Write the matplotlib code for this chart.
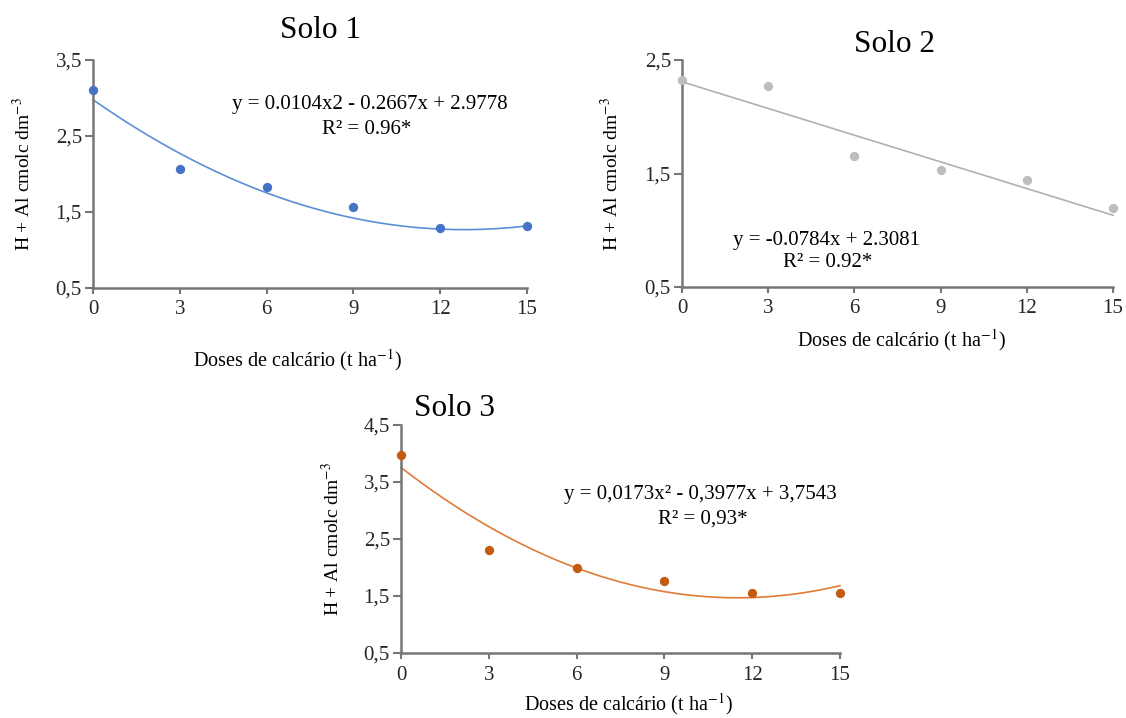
import numpy as np
import matplotlib
matplotlib.use('Agg')
import matplotlib.pyplot as plt

plt.rcParams['font.family'] = ['Liberation Serif', 'DejaVu Serif']
plt.rcParams['mathtext.fontset'] = 'stix'

# doses de calcario (t/ha)
doses = [0, 3, 6, 9, 12, 15]

# H + Al
solo1 = [3.10, 2.06, 1.83, 1.57, 1.29, 1.32]
solo2 = [2.32, 2.27, 1.65, 1.53, 1.44, 1.20]
solo3 = [3.98, 2.31, 2.00, 1.76, 1.56, 1.56]

# trendline coefficients (highest degree first), as printed on the chart
coef1 = [0.0104, -0.2667, 2.9778]
coef2 = [-0.0784, 2.3081]
coef3 = [0.0173, -0.3977, 3.7543]

eq1 = 'y = 0.0104x2 - 0.2667x + 2.9778'
r1 = 'R² = 0.96*'
eq2 = 'y = -0.0784x + 2.3081'
r2 = 'R² = 0.92*'
eq3 = 'y = 0,0173x² - 0,3977x + 3,7543'
r3 = 'R² = 0,93*'

W, H = 1126, 718
fig = plt.figure(figsize=(W / 100, H / 100), dpi=100)
fig.patch.set_facecolor('white')

ylab = 'H + Al cmolc dm$^{-3}$'
xlab = 'Doses de calcário (t ha$^{-1}$)'


def make_ax(left, bottom, width, height):
    return fig.add_axes([left / W, 1 - bottom / H, width / W, height / H])


def style(ax, yticks):
    ax.set_xlim(0, 15)
    ax.set_ylim(yticks[0], yticks[-1])
    ax.set_xticks(doses)
    ax.set_yticks(yticks)
    ax.set_yticklabels([('%.1f' % t).replace('.', ',') for t in yticks])
    for s in ['top', 'right']:
        ax.spines[s].set_visible(False)
    for s in ['left', 'bottom']:
        ax.spines[s].set_color('#767676')
        ax.spines[s].set_linewidth(1.8)
    ax.tick_params(axis='both', colors='#767676', labelcolor='#262626',
                   labelsize=15, width=1.5, direction='out')
    ax.tick_params(axis='x', length=4, pad=5)
    ax.tick_params(axis='y', length=6, pad=2)


def draw(ax, y, coef, pcol, lcol):
    xx = np.linspace(0, 15, 200)
    ax.plot(xx, np.polyval(coef, xx), color=lcol, lw=1.2, clip_on=False, zorder=2)
    ax.scatter(doses, y, s=45, color=pcol, clip_on=False, zorder=3, linewidths=0)


def labels(ax, ylx, xlx, xly):
    ax.set_ylabel(ylab, fontsize=14, va='center')
    ax.yaxis.set_label_coords(ylx, 0.5)
    ax.set_xlabel(xlab, fontsize=14.5, va='center')
    ax.xaxis.set_label_coords(xlx, xly)


# Solo 1
ax1 = make_ax(93, 288, 434, 228)
style(ax1, [0.5, 1.5, 2.5, 3.5])
draw(ax1, solo1, coef1, '#4472C4', '#5B8FD5')
labels(ax1, (23 - 93) / 434, (297 - 93) / 434, (288 - 360) / 228)
ax1.text(0.638, 0.807, eq1, transform=ax1.transAxes, ha='center', va='center', fontsize=15)
ax1.text(0.630, 0.693, r1, transform=ax1.transAxes, ha='center', va='center', fontsize=15)
fig.text(320 / W, 1 - 30 / H, 'Solo 1', ha='center', va='center', fontsize=22.5)

# Solo 2
ax2 = make_ax(682, 287, 431, 227)
style(ax2, [0.5, 1.5, 2.5])
draw(ax2, solo2, coef2, '#BDBDBD', '#B0B0B0')
labels(ax2, (611 - 682) / 431, (901 - 682) / 431, (287 - 340) / 227)
ax2.text(0.336, 0.207, eq2, transform=ax2.transAxes, ha='center', va='center', fontsize=15)
ax2.text(0.338, 0.110, r2, transform=ax2.transAxes, ha='center', va='center', fontsize=15)
fig.text(895 / W, 1 - 45 / H, 'Solo 2', ha='center', va='center', fontsize=22.5)

# Solo 3
ax3 = make_ax(401, 653, 439, 228)
style(ax3, [0.5, 1.5, 2.5, 3.5, 4.5])
draw(ax3, solo3, coef3, '#C55A11', '#E07B39')
labels(ax3, (332 - 401) / 439, (628 - 401) / 439, (653 - 704) / 228)
ax3.text(0.681, 0.693, eq3, transform=ax3.transAxes, ha='center', va='center', fontsize=15)
ax3.text(0.688, 0.588, r3, transform=ax3.transAxes, ha='center', va='center', fontsize=15)
fig.text(455 / W, 1 - 408 / H, 'Solo 3', ha='center', va='center', fontsize=22.5)

fig.savefig('out.png', dpi=100)
